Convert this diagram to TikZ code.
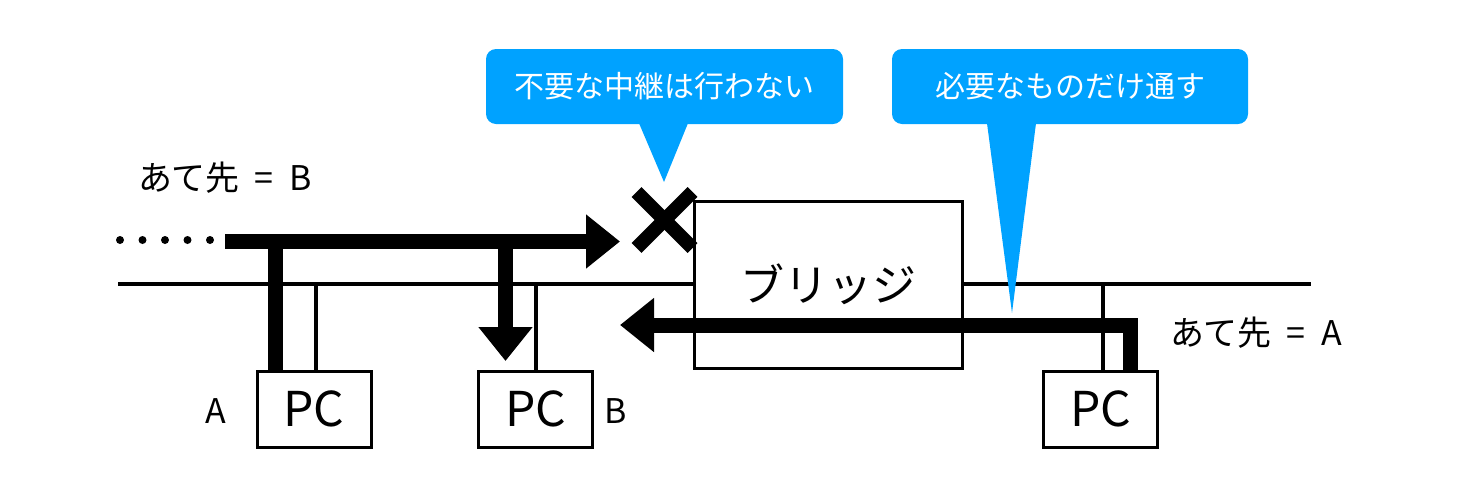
\documentclass[tikz,border=0pt]{standalone}
\usepackage{fontspec}
\setmainfont{Noto Sans CJK JP}
\usetikzlibrary{arrows.meta,calc}
\definecolor{callout}{RGB}{0,162,255}
\begin{document}
\begin{tikzpicture}[x=1pt,y=-1pt,
 box/.style={draw,line width=3pt,fill=white,minimum width=114pt,minimum height=76pt,inner sep=0pt,font=\fontsize{48}{50}\selectfont},
 lbl/.style={inner sep=0pt,font=\fontsize{34}{36}\selectfont},
 biglbl/.style={inner sep=0pt,font=\fontsize{34}{36}\selectfont},
 bus/.style={line width=4pt},
 drop/.style={line width=3.5pt},
 flow/.style={line width=15pt},
 tip/.style={-{Triangle[length=34pt,width=52pt]}},
 bubble/.style={fill=callout,rounded corners=10pt,minimum width=357pt,minimum height=75pt,inner sep=0pt,text=white,font=\fontsize{30}{32}\selectfont}
]
\useasboundingbox (0,0) rectangle (1475,491);
% PCs
\node[box] (pca) at (314,409) {PC};
\node[box] (pcb) at (535.5,409) {PC};
\node[box] (pcc) at (1100.5,409) {PC};
% bus and drops
\coordinate (busL) at (118,284);
\coordinate (busR) at (1311,284);
\draw[bus] (busL) -- (busR);
\coordinate (ta) at (316,284);
\coordinate (tb) at (536,284);
\coordinate (tc) at (1103,284);
\draw[drop] (ta) -- (ta |- pca.north);
\draw[drop] (tb) -- (tb |- pcb.north);
\draw[drop] (tc) -- (tc |- pcc.north);
% bridge
\node[box,minimum width=268pt,minimum height=167pt,font=\fontsize{44}{46}\selectfont] (br) at (828,284.5) {ブリッジ};
% dots
\foreach \x in {120,142.5,165,187.5,210} \fill (\x,240) circle (4);
% flows
\coordinate (fs) at (225,241.5);
\coordinate (fe) at (620,241.5);
\draw[flow,tip] (fs) -- (fe);
\coordinate (ja) at (275.5,241.5);
\draw[flow] (ja) -- (ja |- pca.north);
\coordinate (jb) at (505.5,241.5);
\coordinate (jbe) at (505.5,361);
\draw[flow,tip] (jb) -- (jbe);
\coordinate (rs) at (1130,371);
\coordinate (rc) at (1130,325);
\coordinate (re) at (620,325);
\draw[flow,tip] (rs) -- (rc) -- (re);
% cross
\coordinate (xm) at (664.5,220);
\draw[line width=14pt] (xm) ++(-28,-28) -- ++(56,56);
\draw[line width=14pt] (xm) ++(-28,28) -- ++(56,-56);
% callouts
\node[bubble] (c1) at (664.5,86.5) {不要な中継は行わない};
\coordinate (p1) at (664,182);
\fill[callout] ($(c1.south)+(-25.5,-1)$) -- ($(c1.south)+(23.5,-1)$) -- (p1) -- cycle;
\node[bubble,minimum width=356pt] (c2) at (1070,86.5) {必要なものだけ通す};
\coordinate (p2) at (1012,313);
\fill[callout] ($(c2.south)+(-83,-1)$) -- ($(c2.south)+(-34,-1)$) -- (p2) -- cycle;
% labels
\node[lbl,anchor=west] (dB) at (138,178) {あて先\hspace{15pt}=\hspace{16pt}B};
\node[lbl,anchor=west] (dA) at (1170,333) {あて先\hspace{15pt}=\hspace{16pt}A};
\node[biglbl] (la) at (215.5,411) {A};
\node[biglbl] (lb) at (616,411) {B};
\end{tikzpicture}
\end{document}
